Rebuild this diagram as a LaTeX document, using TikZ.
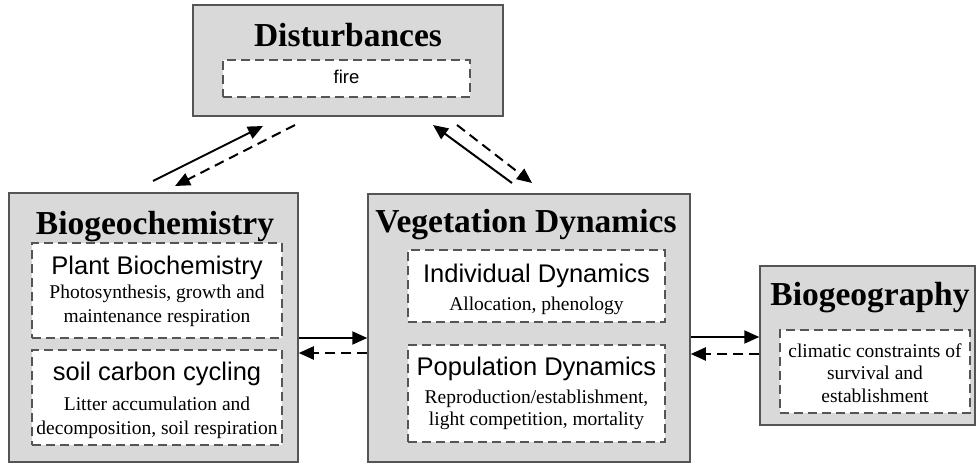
\documentclass[tikz,border=0pt]{standalone}
\usepackage{fontspec}
\setmainfont{Liberation Serif}
\newfontfamily\arialf{Liberation Sans}
\usetikzlibrary{arrows.meta}
\definecolor{boxgray}{HTML}{D9D9D9}
\definecolor{edgegray}{HTML}{555555}
\begin{document}
\begin{tikzpicture}[x=1pt,y=-1pt,
  outer/.style={draw=edgegray, line width=1.5pt, fill=boxgray, inner sep=0pt},
  innerbox/.style={draw=edgegray, line width=1.5pt, dash pattern=on 9pt off 5pt, fill=white, inner sep=0pt},
  ttl/.style={font=\fontsize{33.5}{36}\selectfont\bfseries, anchor=base, inner sep=0pt},
  sub/.style={font=\arialf\fontsize{25.5}{28}\selectfont, anchor=base, inner sep=0pt},
  dsc/.style={font=\fontsize{19.5}{22}\selectfont, anchor=base, inner sep=0pt},
  firetxt/.style={font=\arialf\fontsize{18.5}{20}\selectfont, anchor=base, inner sep=0pt},
  sol/.style={draw=black, line width=2pt, -{Triangle[length=15pt,width=13pt]}},
  dsh/.style={sol, dash pattern=on 10pt off 6pt}]
\useasboundingbox (0,0) rectangle (977,468);
\fill[white] (0,0) rectangle (977,468);

% Disturbances
\node[outer, minimum width=310pt, minimum height=111pt] (dist) at (348,60.5) {};
\node[ttl] (distT) at (348,47) {Disturbances};
\node[innerbox, minimum width=247pt, minimum height=37pt] (fire) at (346.5,78.5) {};
\node[firetxt] (fireT) at (346.5,84) {fire};

% Biogeochemistry
\node[outer, minimum width=289pt, minimum height=269pt] (bio) at (153.5,327.5) {};
\node[ttl] (bioT) at (155,234) {Biogeochemistry};
\node[innerbox, minimum width=250pt, minimum height=95pt] (plant) at (157,290.5) {};
\node[sub] (plantT) at (157,274) {Plant Biochemistry};
\node[dsc] (plantA) at (157,298) {Photosynthesis, growth and};
\node[dsc] (plantB) at (157,322) {maintenance respiration};
\node[innerbox, minimum width=250pt, minimum height=95pt] (soil) at (157,397.5) {};
\node[sub] (soilT) at (157,380) {soil carbon cycling};
\node[dsc] (soilA) at (157,410) {Litter accumulation and};
\node[dsc] (soilB) at (157,434) {decomposition, soil respiration};

% Vegetation Dynamics
\node[outer, minimum width=322pt, minimum height=268pt] (veg) at (529,328) {};
\node[ttl] (vegT) at (526,232) {Vegetation Dynamics};
\node[innerbox, minimum width=257pt, minimum height=72pt] (indiv) at (536.5,286) {};
\node[sub] (indivT) at (536.5,282) {Individual Dynamics};
\node[dsc] (indivA) at (536.5,310) {Allocation, phenology};
\node[innerbox, minimum width=257pt, minimum height=97pt] (pop) at (536.5,393.5) {};
\node[sub] (popT) at (536.5,375) {Population Dynamics};
\node[dsc] (popA) at (536.5,403) {Reproduction/establishment,};
\node[dsc] (popB) at (536.5,425) {light competition, mortality};

% Biogeography
\node[outer, minimum width=215pt, minimum height=159pt] (geo) at (867.5,345.5) {};
\node[ttl] (geoT) at (870,305) {Biogeography};
\node[innerbox, minimum width=190pt, minimum height=83pt] (clim) at (875,371.5) {};
\node[dsc] (climA) at (875,357) {climatic constraints of};
\node[dsc] (climB) at (875,379) {survival and};
\node[dsc] (climC) at (875,402) {establishment};

% horizontal connectors
\coordinate (bv1) at (0,338);
\coordinate (bv2) at (0,353);
\coordinate (vg1) at (0,337);
\coordinate (vg2) at (0,354);
\draw[sol] (bio.east |- bv1) -- (veg.west |- bv1);
\draw[dsh] (veg.west |- bv2) -- (bio.east |- bv2);
\draw[sol] (veg.east |- vg1) -- (geo.west |- vg1);
\draw[dsh] (geo.west |- vg2) -- (veg.east |- vg2);

% diagonal connectors
\coordinate (d1s) at (153,181);
\coordinate (d1e) at (263,126);
\coordinate (d2s) at (295,125);
\coordinate (d2e) at (175,186);
\coordinate (d3s) at (512,183);
\coordinate (d3e) at (433,125);
\coordinate (d4s) at (457,125);
\coordinate (d4e) at (532,183);
\draw[sol] (d1s) -- (d1e);
\draw[dsh] (d2s) -- (d2e);
\draw[sol] (d3s) -- (d3e);
\draw[dsh] (d4s) -- (d4e);
\end{tikzpicture}
\end{document}
